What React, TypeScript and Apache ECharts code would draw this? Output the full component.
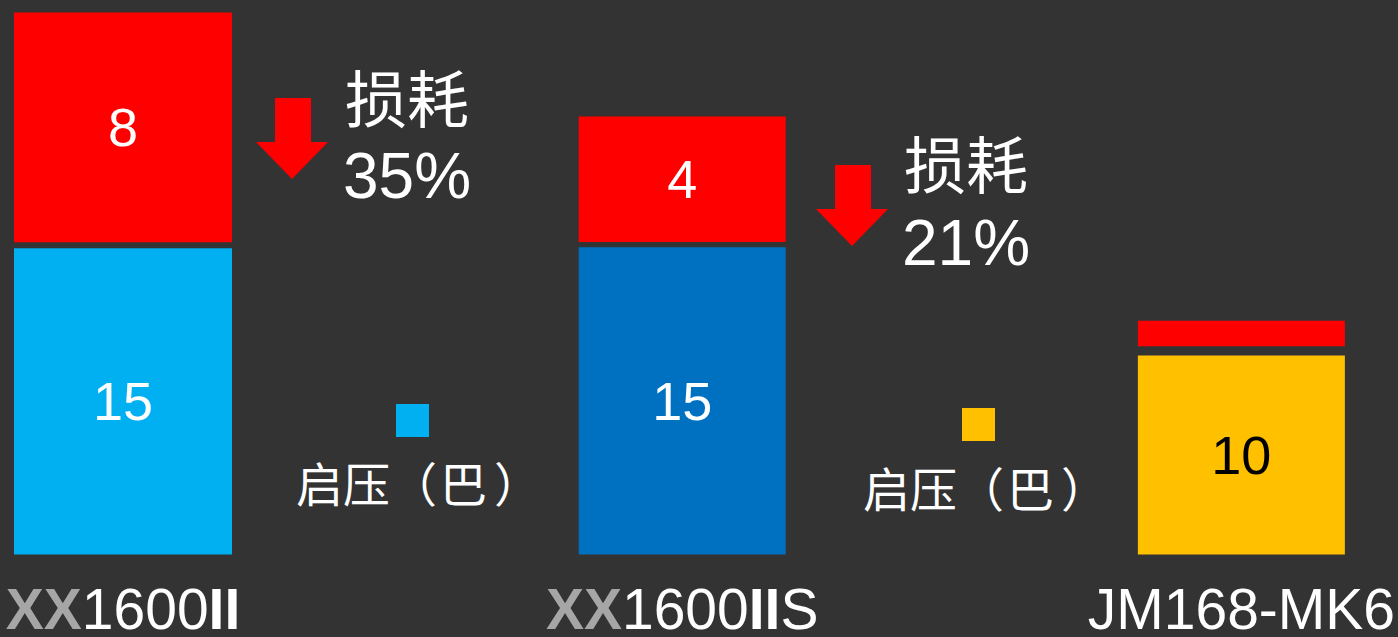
import React, { useEffect, useRef } from "react";
import * as echarts from "echarts";

// ---- data ----
const categories = ["XX1600II", "XX1600IIS", "JM168-MK6"];
const pressureValues = [15, 15.05, 9.75];
const pressureLabels = ["15", "15", "10"];
const gapValues = [0.3, 0.26, 0.45];
const lossValues = [11.25, 6.15, 1.25];
const lossLabels = ["8", "4", ""];
const barColors = ["#00B0F0", "#0070C0", "#FFC000"];
const barLabelColors = ["#FFFFFF", "#FFFFFF", "#000000"];
const lossColor = "#FF0000";
const lossTitles = ["损耗", "损耗"];
const lossPercents = ["35%", "21%"];
const legendName = "启压（巴）";
const legendColors = ["#00B0F0", "#FFC000"];

const BG = "#333333";
const LATIN = "'Liberation Sans', Arial, sans-serif";
const CJK = "'Noto Sans CJK SC', sans-serif";

function pick(arr: any[], idxs: number[]) {
  return arr.map((v, i) => (idxs.includes(i) ? v : "-"));
}

function buildSeries(group: number, axisIndex: number, idxs: number[], width: number) {
  const stack = "s" + group;
  return [
    {
      type: "bar",
      name: legendName,
      stack,
      xAxisIndex: axisIndex,
      barWidth: width,
      clip: false,
      data: pick(pressureValues, idxs).map((v, i) =>
        v === "-"
          ? "-"
          : { value: v, itemStyle: { color: barColors[i] }, label: { color: barLabelColors[i] } }
      ),
      label: {
        show: true,
        position: "inside",
        fontSize: 54,
        fontFamily: LATIN,
        formatter: (p: any) => pressureLabels[p.dataIndex],
        color: "#fff",
      },
    },
    {
      type: "bar",
      stack,
      xAxisIndex: axisIndex,
      barWidth: width,
      clip: false,
      silent: true,
      itemStyle: { color: "rgba(0,0,0,0)" },
      data: pick(gapValues, idxs),
    },
    {
      type: "bar",
      name: "损耗",
      stack,
      xAxisIndex: axisIndex,
      barWidth: width,
      clip: false,
      itemStyle: { color: lossColor },
      data: pick(lossValues, idxs),
      label: {
        show: true,
        position: "inside",
        fontSize: 54,
        fontFamily: LATIN,
        color: "#fff",
        formatter: (p: any) => lossLabels[p.dataIndex],
      },
    },
  ];
}

function catFormatter(v: string) {
  const m = v.match(/^(XX)(\d+)(II)(.*)$/);
  if (m) {
    return `{g|${m[1]}}{w|${m[2]}}{b|${m[3]}}` + (m[4] ? `{w|${m[4]}}` : "");
  }
  return `{w|${v}}`;
}

function arrow(x: number, y: number) {
  return {
    type: "polygon",
    shape: {
      points: [
        [x, y],
        [x + 36, y],
        [x + 36, y + 44],
        [x + 53, y + 44],
        [x + 17, y + 81],
        [x - 19, y + 44],
        [x, y + 44],
      ],
    },
    style: { fill: lossColor },
  };
}

function txt(text: string, x: number, y: number, size: number, family: string, align = "left") {
  return {
    type: "text",
    x,
    y,
    style: { text, fontSize: size, fontFamily: family, fill: "#fff", align, verticalAlign: "middle" },
  };
}

// legend text split into rich tokens so the brackets are spaced like the reference
function legendText(x: number, y: number) {
  const m = legendName.match(/^(.*)（(.*)）$/);
  const base = { fontSize: 47, fontFamily: CJK, fill: "#fff", lineHeight: 50 };
  const text = m ? `{a|${m[1]}}{l|（}{b|${m[2]}}{r|）}` : `{a|${legendName}}`;
  return {
    type: "text",
    x,
    y,
    style: {
      text,
      fill: "#fff",
      align: "left",
      verticalAlign: "middle",
      rich: {
        a: { ...base },
        l: { ...base },
        b: { ...base, width: 50, align: "right" },
        r: { ...base, width: 54, align: "right" },
      },
    },
  };
}

export default function App() {
  const ref = useRef<HTMLDivElement>(null);
  useEffect(() => {
    const chart = echarts.init(ref.current!, null, { renderer: "svg" });
    const rich = {
      g: { fontSize: 57, fontFamily: LATIN, fontWeight: "bold", color: "#A6A6A6", lineHeight: 60 },
      w: { fontSize: 57, fontFamily: LATIN, color: "#FFFFFF", lineHeight: 60 },
      b: { fontSize: 57, fontFamily: LATIN, fontWeight: "bold", color: "#FFFFFF", lineHeight: 60 },
    };
    const option: any = {
      animation: false,
      backgroundColor: BG,
      grid: { left: 123, right: 153.5, top: 3.3, bottom: 77.5 },
      xAxis: [
        {
          type: "category",
          data: categories,
          boundaryGap: false,
          axisLine: { show: false },
          axisTick: { show: false },
          splitLine: { show: false },
          axisLabel: { interval: 0, margin: 24, formatter: catFormatter, rich },
        },
        {
          type: "category",
          data: categories,
          boundaryGap: false,
          show: false,
        },
      ],
      yAxis: { type: "value", min: 0, max: 27, show: false },
      series: [...buildSeries(0, 1, [0], 218), ...buildSeries(1, 0, [1, 2], 207)],
      graphic: [
        arrow(275, 98),
        arrow(835, 165),
        txt(lossTitles[0], 345, 96, 62, CJK),
        txt(lossPercents[0], 343, 176, 64, LATIN),
        txt(lossTitles[1], 904, 162, 62, CJK),
        txt(lossPercents[1], 902, 243, 64, LATIN),
        { type: "rect", shape: { x: 396, y: 404, width: 33, height: 33 }, style: { fill: legendColors[0] } },
        legendText(296, 481),
        { type: "rect", shape: { x: 962, y: 408, width: 33, height: 33 }, style: { fill: legendColors[1] } },
        legendText(863, 486),
      ],
    };
    chart.setOption(option);
    return () => chart.dispose();
  }, []);
  return (
    <div
      ref={ref}
      style={{ position: "fixed", left: 0, top: 0, width: 1398, height: 637, background: BG }}
    />
  );
}
